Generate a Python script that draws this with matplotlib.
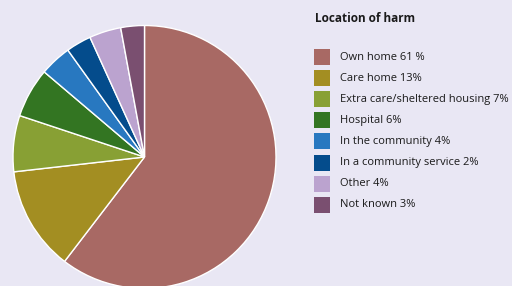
import matplotlib.pyplot as plt
from matplotlib.patches import Rectangle

# Location of harm (shares)
categories = ['Own home 61 %', 'Care home 13%', 'Extra care/sheltered housing 7%',
              'Hospital 6%', 'In the community 4%', 'In a community service 2%',
              'Other 4%', 'Not known 3%']
shares = [60.4, 12.8, 6.9, 6.1, 3.9, 3.1, 3.9, 2.9]
colors = ['#a86964', '#a38e22', '#88a034', '#337522',
          '#2878c0', '#044c8c', '#bba3cf', '#7a4f70']

bg = '#e9e7f4'
W, H = 512, 286
fig = plt.figure(figsize=(W / 100, H / 100), dpi=100, facecolor=bg)

# pie axes: centre (144.5, 157) px, radius 131.5 px
cx, cy, r = 144.5, 157, 131.5
ax = fig.add_axes([(cx - r) / W, (H - cy - r) / H, 2 * r / W, 2 * r / H])
ax.set_facecolor(bg)
ax.pie(shares, colors=colors, startangle=90, counterclock=False, radius=1,
       wedgeprops=dict(edgecolor='white', linewidth=1.0))
ax.set_xlim(-1, 1)
ax.set_ylim(-1, 1)
ax.set_aspect('auto')
ax.axis('off')

# legend drawn by hand
font = 'Open Sans'
fig.text(315 / W, 1 - 19 / H, 'Location of harm', fontsize=8.5, fontweight='bold',
         color='#1a1a1a', va='center', ha='left', family=font)
for i, (lab, col) in enumerate(zip(categories, colors)):
    yc = 57 + i * 21.1
    fig.patches.append(Rectangle((314 / W, 1 - (yc + 8) / H), 16 / W, 16 / H,
                                 transform=fig.transFigure, facecolor=col,
                                 edgecolor='none'))
    fig.text(340 / W, 1 - yc / H, lab, fontsize=8.0, color='#1a1a1a',
             va='center', ha='left', family=font)

fig.savefig('out.png', dpi=100, facecolor=bg)
